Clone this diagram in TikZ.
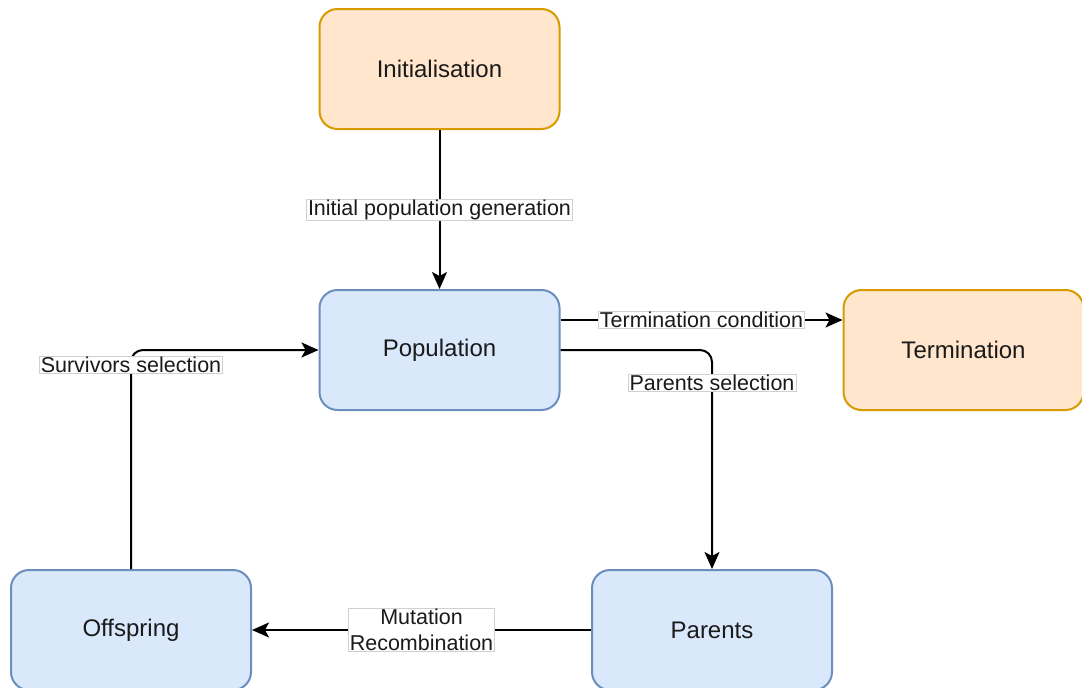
\documentclass[tikz,border=0pt]{standalone}
\usepackage{fontspec}
\setmainfont{Liberation Sans}
\usetikzlibrary{arrows.meta}
\definecolor{orangefill}{HTML}{FFE6CC}
\definecolor{orangeline}{HTML}{D79B00}
\definecolor{bluefill}{HTML}{DAE8FC}
\definecolor{blueline}{HTML}{6C8EBF}
\definecolor{labelline}{HTML}{D0D0D0}
\definecolor{ink}{HTML}{1A1A1A}
\tikzset{
  box/.style={rectangle, rounded corners=18pt, line width=2pt,
    minimum width=240pt, minimum height=120pt, inner sep=0pt,
    font=\fontsize{24}{28}\selectfont, text=ink},
  orangebox/.style={box, fill=orangefill, draw=orangeline},
  bluebox/.style={box, fill=bluefill, draw=blueline},
  flow/.style={line width=2pt, draw=black, -{Stealth[length=17pt,width=15pt,inset=4pt]}},
  lbl/.style={sharp corners, fill=white, draw=labelline, line width=0.8pt,
    inner xsep=1.5pt, inner ysep=0.5pt,
    font=\fontsize{21.5}{25.5}\selectfont, text=ink, align=center}
}
\begin{document}
\begin{tikzpicture}[x=1pt, y=-1pt]
  \useasboundingbox (0,0) rectangle (1082,688);
  % process stages
  \node[orangebox] (init) at (439.5,69) {Initialisation};
  \node[bluebox]   (pop)  at (439.5,350) {Population};
  \node[orangebox] (term) at (963.5,350) {Termination};
  \node[bluebox]   (off)  at (131,630) {Offspring};
  \node[bluebox]   (par)  at (712,630) {Parents};
  % transitions
  \draw[flow] (init.south) -- node[lbl] {Initial population generation} (pop.north);
  \draw[flow] ([yshift=30pt]pop.east) -- node[lbl] {Termination condition} ([yshift=30pt]term.west);
  \draw[flow, rounded corners=12pt] (pop.east) -| node[lbl, pos=0.575] {Parents selection} (par.north);
  \draw[flow] (par.west) -- node[lbl] {Mutation\\Recombination} (off.east);
  \draw[flow, rounded corners=12pt] (off.north) |- node[lbl, pos=0.466] {Survivors selection} (pop.west);
\end{tikzpicture}
\end{document}
